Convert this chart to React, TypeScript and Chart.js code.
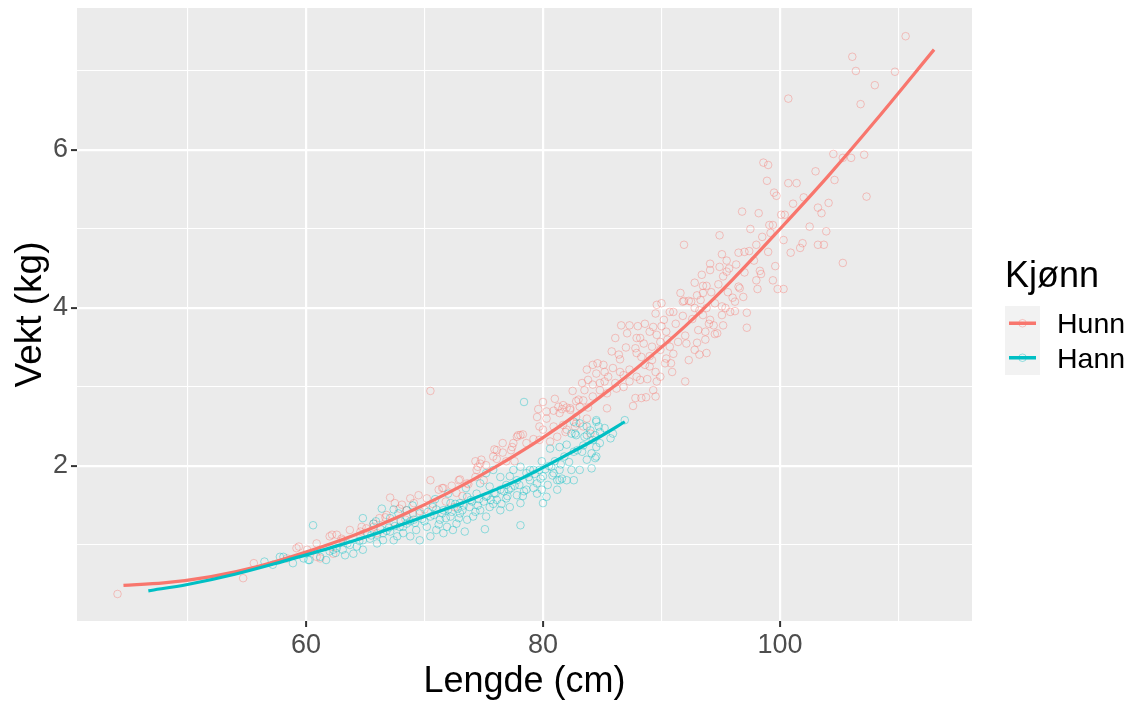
import React, { useEffect, useRef } from "react";
import { Chart, registerables } from "chart.js";

Chart.register(...registerables);

const FONT = "'Liberation Sans', Arial, Helvetica, sans-serif";

// ---- data -----------------------------------------------------------------
const xGridValues = [50, 60, 70, 80, 90, 100, 110];
const xTickLabels = [60, 80, 100];
const yGridValues = [1, 2, 3, 4, 5, 6, 7];
const yTickLabels = [2, 4, 6];

const seriesNames = ["Hunn", "Hann"];

const hunnLengde = [
  110.6, 106.1, 106.4, 109.7, 108.0, 100.7, 106.8, 104.5, 105.3, 106.0, 107.1, 98.6, 99.0, 103.0, 98.9, 100.7, 101.4,
  104.6, 99.5, 99.7, 107.3, 101.1, 96.8, 103.2, 104.1, 100.1, 100.4, 99.1, 99.4, 102.5, 103.9, 94.9, 91.9, 100.3, 101.9,
  101.7, 103.2, 103.7, 105.3, 95.1, 96.5, 97.0, 97.4, 98.0, 99.0, 94.1, 94.1, 94.9, 95.7, 95.5, 95.2, 98.3, 98.4, 98.0,
  99.6, 99.4, 98.1, 99.8, 100.3, 93.4, 92.8, 93.5, 93.8, 93.0, 93.5, 96.5, 96.6, 96.0, 96.9, 91.6, 91.9, 92.3, 95.1,
  95.4, 96.2, 95.8, 96.2, 97.2, 92.8, 93.2, 93.5, 94.1, 94.4, 95.1, 95.2, 97.2, 93.1, 93.7, 94.5, 93.0, 93.7,
  89.6, 90.0, 89.5, 91.0, 90.7, 91.8, 92.5, 93.8, 94.5, 86.6, 87.3, 88.0, 88.6, 89.3, 90.0, 90.4, 94.0, 94.7, 86.1,
  87.1, 87.9, 88.5, 87.8, 89.6, 89.9, 89.2, 89.9, 90.7, 91.4, 92.1, 92.8, 93.2, 93.8, 92.3, 86.4, 87.9, 88.3, 89.0,
  89.2, 90.4, 83.7, 84.2, 85.1, 84.5, 83.8, 84.2, 85.2, 85.5, 85.2, 84.8, 85.9, 86.5, 86.8, 87.3, 87.9, 88.2, 87.3,
  86.8, 86.2, 88.6, 89.0, 89.5, 89.9, 89.6, 90.3, 90.9, 92.0, 89.3, 89.5, 87.8, 88.3, 88.7, 87.6, 85.4, 83.0, 81.7,
  82.3, 82.8, 83.7, 82.7, 82.0, 70.5, 80.0, 79.6, 80.3, 80.9, 81.6, 82.0, 82.8, 83.4, 83.8, 77.8, 78.3, 78.6, 79.2,
  79.7, 80.9, 81.7, 75.9, 76.6, 77.3, 76.1, 76.9, 77.6, 74.3, 74.7, 74.4, 73.0, 73.7, 71.5, 72.3, 72.7, 70.2, 70.7,
  69.1, 69.6, 67.1, 67.9, 66.7, 67.4, 68.4, 81.3, 82.3, 83.1, 79.5, 80.3, 80.0, 81.4, 78.1, 77.5, 79.7, 80.6, 81.2,
  81.9, 82.8, 83.4, 84.0, 83.5, 84.8, 86.1, 85.4, 84.2, 44.1, 54.7, 55.6, 59.4, 60.1, 60.9, 62.0, 61.2, 62.3, 63.1,
  58.4, 59.2, 62.2, 63.0, 63.7, 64.6, 65.1, 65.7, 67.5, 68.1, 68.5, 66.8, 66.2, 60.9, 68.8, 69.5, 70.5, 71.2, 71.6,
  72.9, 73.6, 74.3, 75.0, 74.5, 74.8, 75.2, 75.8, 76.1, 76.6, 77.4, 77.9, 62.6, 64.7, 65.7, 64.6, 66.0, 70.0, 71.8,
  73.2, 69.0, 72.5, 88.2, 89.0, 90.2, 91.2, 91.8, 92.6, 93.3, 94.2, 94.8, 95.6, 96.3, 97.0, 97.8, 98.5, 99.2, 90.5,
  91.0, 92.0, 86.5, 87.0, 85.8, 84.6, 83.3, 82.5, 81.0, 88.8, 90.8, 95.5, 97.5, 98.2, 102.0, 103.5, 100.9,
];
const hunnVekt = [
  7.44, 7.18, 7.0, 6.99, 6.82, 6.65, 6.58, 5.95, 5.9, 5.9, 5.94, 5.84, 5.81, 5.73, 5.61, 5.58, 5.58,
  5.62, 5.46, 5.42, 5.41, 5.32, 5.22, 5.27, 5.33, 5.18, 5.18, 5.05, 5.05, 5.03, 4.97, 4.92, 4.8, 4.86, 4.82,
  4.76, 4.8, 4.8, 4.57, 4.68, 4.7, 4.71, 4.72, 4.8, 4.71, 4.56, 4.48, 4.52, 4.5, 4.46, 4.4, 4.47, 4.43, 4.35,
  4.53, 4.35, 4.24, 4.24, 4.24, 4.42, 4.32, 4.28, 4.28, 4.16, 4.19, 4.27, 4.25, 4.13, 4.14, 4.19, 4.09, 4.09, 4.02,
  4.0, 4.08, 3.95, 3.96, 3.94, 4.0, 3.97, 3.91, 3.85, 3.78, 3.91, 3.78, 3.75, 3.72, 3.7, 3.67, 3.56, 3.6,
  4.04, 4.06, 3.93, 3.95, 3.95, 4.08, 4.08, 4.0, 4.06, 3.78, 3.78, 3.77, 3.8, 3.76, 3.77, 3.7, 3.8, 3.68, 3.62,
  3.68, 3.62, 3.55, 3.49, 3.66, 3.57, 3.51, 3.47, 3.51, 3.57, 3.55, 3.47, 3.41, 3.43, 3.34, 3.41, 3.43, 3.38, 3.39,
  3.34, 3.36, 3.22, 3.28, 3.28, 3.17, 3.09, 3.03, 3.19, 3.13, 3.07, 3.05, 3.24, 3.19, 3.15, 3.22, 3.13, 3.09, 3.07,
  3.0, 2.98, 3.28, 3.26, 3.19, 3.13, 3.07, 3.3, 3.19, 3.07, 2.96, 2.88, 2.86, 2.86, 2.87, 2.76, 2.73, 2.84, 2.77,
  2.73, 2.62, 2.6, 2.5, 2.46, 2.95, 2.81, 2.72, 2.69, 2.7, 2.72, 2.74, 2.82, 2.83, 2.74, 2.37, 2.4, 2.29, 2.34,
  2.5, 2.5, 2.52, 2.21, 2.17, 2.2, 2.09, 2.06, 2.06, 2.06, 2.03, 1.95, 1.83, 1.77, 1.72, 1.75, 1.66, 1.59, 1.52,
  1.53, 1.43, 1.6, 1.46, 1.35, 1.29, 1.32, 2.75, 2.71, 2.75, 2.62, 2.6, 2.46, 2.67, 2.39, 2.29, 2.33, 2.31, 2.37,
  2.43, 2.54, 2.5, 2.41, 2.96, 2.96, 3.05, 2.92, 2.88, 0.38, 0.58, 0.77, 0.98, 0.94, 1.02, 1.11, 0.83, 0.89, 1.06,
  0.83, 0.96, 1.13, 1.08, 1.19, 1.17, 1.21, 1.23, 1.53, 1.51, 1.44, 1.38, 1.34, 0.85, 1.59, 1.63, 1.82, 1.7, 1.72,
  1.82, 1.78, 1.86, 1.82, 1.99, 2.08, 2.01, 2.12, 2.2, 2.29, 2.24, 2.39, 1.13, 1.23, 1.27, 1.11, 1.15, 1.45, 1.55,
  1.62, 1.4, 1.48, 3.62, 3.7, 3.85, 3.8, 3.9, 3.86, 4.1, 4.2, 4.3, 4.2, 4.55, 4.45, 4.6, 4.9, 4.95, 3.6,
  3.42, 3.65, 3.35, 3.5, 3.45, 3.3, 3.05, 2.95, 2.85, 3.1, 3.3, 4.6, 5.0, 5.2, 5.4, 5.2, 4.7,
];

const hannLengde = [
  78.4, 82.6, 83.1, 83.7, 84.5, 82.4, 82.8, 83.5, 84.4, 80.6, 81.4, 82.0, 82.6, 83.3, 84.1, 83.7, 84.5, 82.4, 83.1,
  84.1, 82.6, 81.6, 80.7, 79.9, 79.2, 78.1, 75.1, 73.4, 72.4, 77.5, 78.1, 78.6, 77.2, 77.8, 78.9, 79.5, 80.0, 80.9,
  81.4, 81.2, 79.7, 80.4, 75.2, 75.8, 76.4, 74.7, 75.5, 76.4, 76.9, 74.4, 75.2, 76.1, 76.9, 77.8, 73.6, 73.0, 73.8,
  74.7, 75.5, 76.4, 72.2, 71.6, 70.7, 70.5, 71.3, 72.2, 69.6, 69.1, 68.5, 68.2, 69.3, 70.2, 73.0, 74.1, 71.0, 71.9,
  68.8, 69.6, 70.5, 71.6, 72.7, 73.6, 75.2, 77.2, 78.1, 78.6, 79.5, 80.3, 80.0, 81.2, 82.0, 60.6, 58.1, 58.9, 56.5,
  57.2, 59.8, 60.3, 61.2, 62.0, 62.6, 63.1, 63.7, 64.3, 64.8, 65.4, 66.0, 66.5, 67.1, 67.7, 68.2, 64.8, 64.0, 63.3,
  61.7, 66.5, 66.0, 67.4, 67.9, 68.5, 66.4, 64.8, 65.7, 67.1, 67.8, 68.5, 57.8, 60.2, 62.3, 84.5, 84.7, 86.9, 85.9,
  82.7, 83.7, 84.2, 85.7, 84.8, 84.8, 84.5, 84.4, 81.4, 70.0, 70.8, 71.5, 72.0, 72.8, 73.3, 74.0, 74.6, 75.3, 75.9,
  76.7, 77.3, 78.0, 78.8, 79.3, 79.8, 80.5, 81.0, 81.8, 69.2, 68.0, 67.0, 66.3, 65.2, 71.2, 72.9, 74.3, 75.8, 77.0,
  78.4, 62.5, 63.5, 64.5, 65.5, 66.8, 67.5, 68.8, 69.8, 70.3, 71.0, 71.8, 72.3, 72.6, 73.2, 73.9, 74.5, 75.0, 75.6,
  76.0, 76.5, 77.1, 77.6, 78.3, 78.9, 79.2, 79.9, 80.2, 80.8, 81.5, 82.2, 82.9, 83.4, 84.0, 85.2, 69.0, 70.9, 72.0,
  73.5, 65.9, 67.4,
];
const hannVekt = [
  2.81, 2.56, 2.54, 2.5, 2.56, 2.41, 2.39, 2.37, 2.39, 2.22, 2.24, 2.27, 2.18, 2.18, 2.16, 2.08, 2.12, 1.95, 1.95,
  1.97, 1.82, 1.84, 1.99, 2.06, 1.95, 1.25, 1.2, 1.17, 1.19, 1.95, 1.99, 1.91, 1.87, 1.82, 1.82, 1.78, 1.87, 1.91,
  1.95, 1.82, 1.95, 1.76, 1.91, 1.95, 1.86, 1.78, 1.74, 1.7, 1.76, 1.65, 1.61, 1.57, 1.59, 1.63, 1.61, 1.53, 1.48,
  1.44, 1.48, 1.44, 1.53, 1.44, 1.48, 1.36, 1.32, 1.36, 1.4, 1.32, 1.44, 1.23, 1.19, 1.23, 1.4, 1.36, 1.19, 1.23,
  1.11, 1.06, 1.11, 1.15, 1.27, 1.32, 1.36, 1.48, 1.53, 1.7, 1.65, 1.61, 1.53, 1.7, 1.82, 1.25, 0.85, 0.77, 0.79,
  0.75, 0.83, 0.81, 0.85, 0.92, 0.96, 0.94, 1.0, 0.98, 1.06, 1.08, 1.13, 1.15, 1.17, 1.11, 1.15, 0.94, 0.89, 0.87,
  0.81, 1.06, 1.02, 1.06, 1.23, 1.27, 1.46, 1.34, 1.27, 1.34, 1.4, 1.36, 0.85, 0.81, 0.94, 2.58, 2.5, 2.58, 2.41,
  2.41, 2.39, 2.33, 2.35, 2.29, 2.43, 2.24, 2.1, 1.82, 1.3, 1.38, 1.4, 1.45, 1.46, 1.5, 1.55, 1.58, 1.62, 1.66,
  1.68, 1.72, 1.76, 1.86, 1.9, 1.84, 2.0, 2.06, 2.12, 1.28, 1.3, 1.22, 1.2, 1.14, 1.26, 1.34, 1.42, 1.52, 1.62,
  1.68, 0.9, 1.02, 1.05, 1.12, 1.18, 1.24, 1.3, 1.33, 1.42, 1.45, 1.34, 1.42, 1.52, 1.44, 1.57, 1.5, 1.55, 1.57,
  1.65, 1.52, 1.7, 1.75, 1.62, 1.95, 1.72, 1.7, 1.96, 1.88, 2.02, 2.05, 2.2, 2.26, 2.45, 2.48, 1.5, 1.58, 1.65,
  1.72, 1.3, 1.45,
];

const hunnKurveLengde = [44.6, 48, 52, 56, 60, 64, 68, 72, 76, 80, 84, 88, 92, 96, 100, 104, 108, 113];
const hunnKurveVekt = [0.49, 0.52, 0.6, 0.73, 0.91, 1.12, 1.37, 1.66, 1.99, 2.36, 2.78, 3.25, 3.77, 4.36, 5.0, 5.66, 6.36, 7.27];
const hannKurveLengde = [46.7, 50, 54, 58, 62, 66, 70, 74, 78, 82, 84.8, 86.9];
const hannKurveVekt = [0.42, 0.5, 0.63, 0.79, 0.96, 1.15, 1.36, 1.58, 1.83, 2.14, 2.37, 2.56];

// ---- styling --------------------------------------------------------------
const RED = "#F8766D";
const TEAL = "#00BFC4";
const RED_PT = "rgba(248,118,109,0.4)";
const TEAL_PT = "rgba(0,191,196,0.4)";

const toPoints = (xs: number[], ys: number[]) => xs.map((x, i) => ({ x, y: ys[i] }));

export default function App() {
  const canvasRef = useRef<HTMLCanvasElement | null>(null);

  useEffect(() => {
    if (!canvasRef.current) return;

    const panelBg = {
      id: "panelBg",
      beforeDraw(chart: any) {
        const { ctx, chartArea: a } = chart;
        ctx.save();
        ctx.fillStyle = "#EBEBEB";
        ctx.fillRect(a.left, a.top, a.right - a.left, a.bottom - a.top);
        ctx.restore();
      },
    };

    const ggLegend = {
      id: "ggLegend",
      afterDraw(chart: any) {
        const ctx = chart.ctx as CanvasRenderingContext2D;
        const a = chart.chartArea;
        const x0 = a.right + 33;
        ctx.save();
        ctx.fillStyle = "#000000";
        ctx.font = `36px ${FONT}`;
        ctx.textBaseline = "alphabetic";
        ctx.textAlign = "left";
        ctx.fillText("Kjønn", x0, 287);
        const rowH = 34.5;
        const boxTop = 306;
        ctx.fillStyle = "#F2F2F2";
        ctx.fillRect(x0, boxTop, 35, rowH * 2);
        const cols = [RED, TEAL];
        const ptCols = [RED_PT, TEAL_PT];
        seriesNames.forEach((name, i) => {
          const cy = boxTop + rowH * i + rowH / 2;
          ctx.strokeStyle = ptCols[i];
          ctx.lineWidth = 1;
          ctx.beginPath();
          ctx.arc(x0 + 17.5, cy, 3.8, 0, Math.PI * 2);
          ctx.stroke();
          ctx.strokeStyle = cols[i];
          ctx.lineWidth = 3.5;
          ctx.beginPath();
          ctx.moveTo(x0 + 4, cy);
          ctx.lineTo(x0 + 31, cy);
          ctx.stroke();
          ctx.fillStyle = "#000000";
          ctx.font = `28.5px ${FONT}`;
          ctx.textBaseline = "middle";
          ctx.fillText(name, x0 + 52, cy + 2);
        });
        ctx.restore();
      },
    };

    const isMajor = (v: number, labels: number[]) => labels.includes(v);

    const chart = new Chart(canvasRef.current, {
      type: "scatter",
      data: {
        datasets: [
          {
            label: "Hann kurve",
            data: toPoints(hannKurveLengde, hannKurveVekt),
            showLine: true,
            borderColor: TEAL,
            borderWidth: 3.2,
            pointRadius: 0,
            cubicInterpolationMode: "monotone",
            fill: false,
            order: 0,
          } as any,
          {
            label: "Hunn kurve",
            data: toPoints(hunnKurveLengde, hunnKurveVekt),
            showLine: true,
            borderColor: RED,
            borderWidth: 3.2,
            pointRadius: 0,
            cubicInterpolationMode: "monotone",
            fill: false,
            order: 1,
          } as any,
          {
            label: "Hann",
            data: toPoints(hannLengde, hannVekt),
            showLine: false,
            pointRadius: 3.8,
            pointBorderWidth: 1,
            pointBackgroundColor: "rgba(0,0,0,0)",
            pointBorderColor: TEAL_PT,
            order: 2,
          } as any,
          {
            label: "Hunn",
            data: toPoints(hunnLengde, hunnVekt),
            showLine: false,
            pointRadius: 3.8,
            pointBorderWidth: 1,
            pointBackgroundColor: "rgba(0,0,0,0)",
            pointBorderColor: RED_PT,
            order: 3,
          } as any,
        ],
      },
      options: {
        animation: false,
        responsive: true,
        maintainAspectRatio: false,
        events: [],
        layout: { padding: { top: 8, right: 161, bottom: 0, left: 0 } },
        plugins: {
          legend: { display: false },
          tooltip: { enabled: false },
          title: { display: false },
        },
        scales: {
          x: {
            type: "linear",
            min: 40.68,
            max: 116.2,
            afterBuildTicks: (s: any) => {
              s.ticks = xGridValues.map((v) => ({ value: v }));
            },
            afterFit: (s: any) => {
              s.height = 84;
              s.paddingLeft = 0;
              s.paddingRight = 0;
              s.paddingTop = 0;
              s.paddingBottom = 0;
            },
            border: { display: false },
            grid: {
              color: "#FFFFFF",
              lineWidth: (c: any) => (isMajor(c.tick?.value, xTickLabels) ? 2.2 : 1.1),
              drawTicks: true,
              tickLength: 6,
              tickWidth: 2,
              tickColor: (c: any) => (isMajor(c.tick?.value, xTickLabels) ? "#333333" : "rgba(0,0,0,0)"),
            },
            ticks: {
              autoSkip: false,
              maxRotation: 0,
              padding: 5,
              color: "#4D4D4D",
              font: { family: FONT, size: 27, lineHeight: 1 },
              callback: (v: any) => (xTickLabels.includes(Number(v)) ? String(v) : ""),
            },
            title: {
              display: true,
              text: "Lengde (cm)",
              color: "#000000",
              font: { family: FONT, size: 36, lineHeight: 1 },
              padding: { top: 0, bottom: 5 },
            },
          },
          y: {
            type: "linear",
            min: 0.038,
            max: 7.797,
            afterBuildTicks: (s: any) => {
              s.ticks = yGridValues.map((v) => ({ value: v }));
            },
            afterFit: (s: any) => {
              s.width = 77;
              s.paddingLeft = 0;
              s.paddingRight = 0;
              s.paddingTop = 0;
              s.paddingBottom = 0;
            },
            border: { display: false },
            grid: {
              color: "#FFFFFF",
              lineWidth: (c: any) => (isMajor(c.tick?.value, yTickLabels) ? 2.2 : 1.1),
              drawTicks: true,
              tickLength: 6,
              tickWidth: 2,
              tickColor: (c: any) => (isMajor(c.tick?.value, yTickLabels) ? "#333333" : "rgba(0,0,0,0)"),
            },
            ticks: {
              autoSkip: false,
              padding: 3,
              color: "#4D4D4D",
              font: { family: FONT, size: 27, lineHeight: 1 },
              callback: (v: any) => (yTickLabels.includes(Number(v)) ? String(v) : ""),
            },
            title: {
              display: true,
              text: "Vekt (kg)",
              color: "#000000",
              font: { family: FONT, size: 37, lineHeight: 1 },
              padding: { top: 12, bottom: 0 },
            },
          },
        },
      } as any,
      plugins: [panelBg, ggLegend],
    });

    return () => chart.destroy();
  }, []);

  return (
    <div style={{ position: "fixed", left: 0, top: 0, width: 1133, height: 705, background: "#FFFFFF" }}>
      <canvas ref={canvasRef} />
    </div>
  );
}
